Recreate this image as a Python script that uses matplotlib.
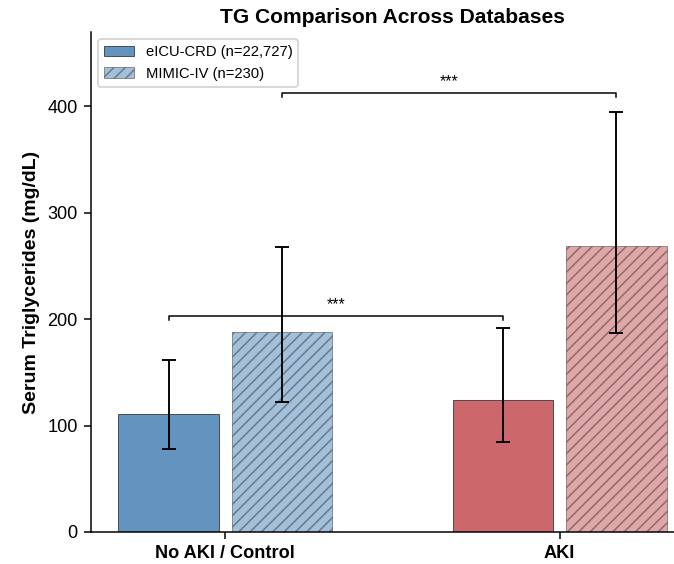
import numpy as np
import matplotlib
matplotlib.use('Agg')
import matplotlib.pyplot as plt

# Data (medians with IQR-style whiskers)

groups = ['No AKI / Control', 'AKI']
eicu_med = [111, 124]
eicu_lo = [78, 85]
eicu_hi = [162, 192]
mimic_med = [188, 269]
mimic_lo = [122, 187]
mimic_hi = [268, 395]

eicu_label = 'eICU-CRD (n=22,727)'
mimic_label = 'MIMIC-IV (n=230)'
sig_text = '***'

blue = '#4682B4'
red = '#C44E52'

plt.rcParams['font.family'] = ['Liberation Sans', 'DejaVu Sans']
plt.rcParams['hatch.linewidth'] = 0.8
plt.rcParams['hatch.color'] = '#333333'

DPI = 136
fig = plt.figure(figsize=(674 / DPI, 564 / DPI), dpi=DPI)
ax = fig.add_axes([91 / 674, 32 / 564, 603 / 674, 500 / 564])

x = np.arange(len(groups))
width = 0.30
off = 0.17
colors = [blue, red]

eicu_med = np.array(eicu_med)
mimic_med = np.array(mimic_med)
eicu_err = [eicu_med - np.array(eicu_lo), np.array(eicu_hi) - eicu_med]
mimic_err = [mimic_med - np.array(mimic_lo), np.array(mimic_hi) - mimic_med]

# eICU bars (solid) and MIMIC bars (hatched)
for i in range(len(groups)):
    ax.bar(x[i] - off, eicu_med[i], width, color=colors[i], alpha=0.85,
           edgecolor='#333333', linewidth=0.5,
           label=eicu_label if i == 0 else None)
    ax.bar(x[i] + off, mimic_med[i], width, color=colors[i], alpha=0.5,
           edgecolor='#333333', linewidth=0.5, hatch='////',
           label=mimic_label if i == 0 else None)

ax.errorbar(x - off, eicu_med, yerr=eicu_err, fmt='none', ecolor='black',
            elinewidth=1.0, capsize=3.6, capthick=1.0)
ax.errorbar(x + off, mimic_med, yerr=mimic_err, fmt='none', ecolor='black',
            elinewidth=1.0, capsize=3.6, capthick=1.0)

# Significance brackets

def bracket(x1, x2, y, h=3.5):
    ax.plot([x1, x1, x2, x2], [y - h, y, y, y - h], color='black', lw=0.8)
    ax.text((x1 + x2) / 2, y + 4, sig_text, ha='center', va='bottom', fontsize=8.4)

bracket(x[0] - off, x[1] - off, max(eicu_hi) * 1.057)
bracket(x[0] + off, x[1] + off, max(mimic_hi) * 1.044)

# Axes and titles

ax.set_ylim(0, 470)
ax.set_xticks(x)
ax.set_xticklabels(groups, fontsize=9.6, fontweight='bold')
ax.tick_params(axis='y', labelsize=9.6)
ax.set_ylabel('Serum Triglycerides (mg/dL)', fontsize=10.3, fontweight='bold')
ax.set_title('TG Comparison Across Databases', fontsize=11.1, fontweight='bold', pad=5)
ax.spines['top'].set_visible(False)
ax.spines['right'].set_visible(False)
ax.legend(loc='upper left', fontsize=7.8)

fig.savefig('out.png', dpi=DPI)
